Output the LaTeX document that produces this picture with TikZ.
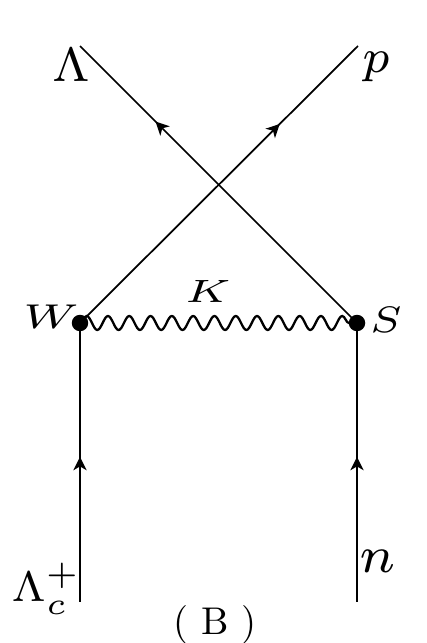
\documentclass[tikz,border=0pt]{standalone}
\usepackage{tikz}
\usetikzlibrary{arrows.meta,decorations.markings,decorations.pathmorphing}

\tikzset{
  fermion/.style={line width=0.5pt,postaction={decorate},
    decoration={markings,mark=at position #1 with
      {\arrow{Stealth[length=3.8pt,width=3.8pt,inset=1.1pt]}}}},
  kaon/.style={line width=0.65pt,decorate,
    decoration={snake,segment length=0.213cm,amplitude=0.07cm}},
  vtx/.style={circle,fill=black,inner sep=0pt,minimum size=0.165cm},
  lbl/.style={inner sep=0pt}
}

\begin{document}
\begin{tikzpicture}
  \useasboundingbox (0,0) rectangle (4.27,6.43);

  % Vertices and external ends
  \coordinate (W) at (0.80,3.20);
  \coordinate (S) at (3.57,3.20);
  \coordinate (LamTop) at (0.80,5.97);
  \coordinate (pTop) at (3.58,5.97);
  \coordinate (LamcBot) at (0.80,0.41);
  \coordinate (nBot) at (3.57,0.41);

  % Incoming lines
  \draw[fermion=0.52] (LamcBot) -- (W);
  \draw[fermion=0.52] (nBot) -- (S);

  % Outgoing (crossed) lines
  \draw[fermion=0.72] (W) -- (pTop);
  \draw[fermion=0.73] (S) -- (LamTop);

  % Exchanged kaon
  \draw[kaon] (W) -- (S);

  % Vertex dots
  \node[vtx] (Wdot) at (W) {};
  \node[vtx] (Sdot) at (S) {};

  % Labels
  \node[lbl,anchor=base] (LamLbl) at (0.71,5.61) {\scalebox{1.96}{$\scriptstyle\Lambda$}};
  \node[lbl,anchor=base] (pLbl) at (3.76,5.70) {\scalebox{1.93}{$\scriptstyle p$}};
  \node[lbl,anchor=base] (WLbl) at (0.51,3.15) {\scalebox{1.85}[1.4]{$\scriptstyle W$}};
  \node[lbl,anchor=base] (SLbl) at (3.86,3.10) {\scalebox{1.71}[1.5]{$\scriptstyle S$}};
  \node[lbl,anchor=base] (KLbl) at (2.08,3.40) {\scalebox{1.8}[1.31]{$\scriptstyle K$}};
  \node[lbl,anchor=base west] (LamcLbl) at (0.11,0.41) {\scalebox{1.78}[1.74]{$\scriptstyle\Lambda_c^+$}};
  \node[lbl,anchor=base] (nLbl) at (3.78,0.70) {\scalebox{2.1}{$\scriptstyle n$}};
  \node[lbl,anchor=base] (BLbl) at (2.15,0.08) {\scalebox{1.1}{( B )}};
\end{tikzpicture}
\end{document}
